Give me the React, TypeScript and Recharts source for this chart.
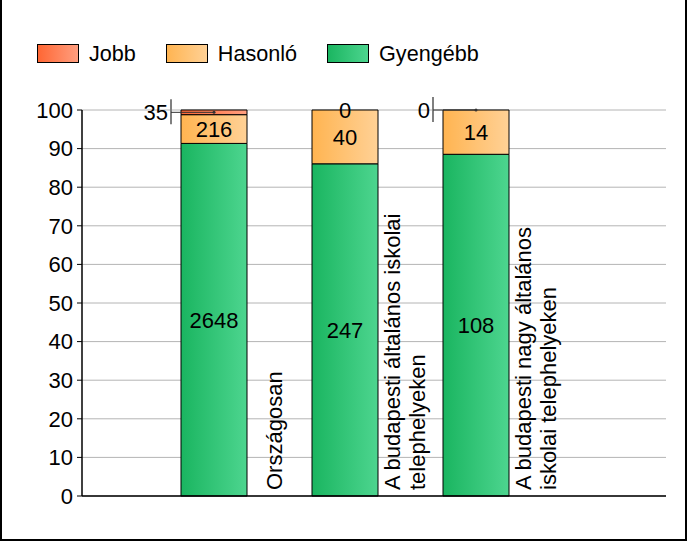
import React from 'react';
import { BarChart, Bar, XAxis, YAxis, CartesianGrid, LabelList } from 'recharts';

const categories = ['Országosan', 'A budapesti általános iskolai telephelyeken', 'A budapesti nagy általános iskolai telephelyeken'];
const categoryLines = [['Országosan'], ['A budapesti általános iskolai', 'telephelyeken'], ['A budapesti nagy általános', 'iskolai telephelyeken']];
const jobb = [35, 0, 0];
const hasonlo = [216, 40, 14];
const gyengebb = [2648, 247, 108];
const yTicks = [0, 10, 20, 30, 40, 50, 60, 70, 80, 90, 100];

const series = [
  { key: 'jobb', name: 'Jobb', from: '#FF6633', to: '#FF9F80' },
  { key: 'hasonlo', name: 'Hasonló', from: '#FFB451', to: '#FFD196' },
  { key: 'gyengebb', name: 'Gyengébb', from: '#1AB560', to: '#4DD58F' },
];

const data = categories.map((name, i) => {
  const total = jobb[i] + hasonlo[i] + gyengebb[i];
  return {
    name,
    jobb: (jobb[i] / total) * 100,
    hasonlo: (hasonlo[i] / total) * 100,
    gyengebb: (gyengebb[i] / total) * 100,
    jobbN: jobb[i],
    hasonloN: hasonlo[i],
    gyengebbN: gyengebb[i],
  };
});

const FONT = '"Liberation Sans", Arial, sans-serif';

function CategoryTick(props: any) {
  const { x, y, index } = props;
  const lines = categoryLines[index] || [];
  return (
    <g>
      {lines.map((line, i) => {
        const bx = x + 68 + (i - (lines.length - 1) / 2) * 25;
        const by = y - 6;
        return (
          <text key={i} x={bx} y={by} transform={`rotate(-90 ${bx} ${by})`} fontSize={22} fontFamily={FONT} fill="#000" textAnchor="start">
            {line}
          </text>
        );
      })}
    </g>
  );
}

// draws the "Jobb" count; cy is the middle of the (possibly empty) top segment
function drawJobb(x: number, width: number, cy: number, value: any, index: number) {
  if (index === 1) {
    return (
      <text x={x + width / 2} y={cy} textAnchor="middle" dominantBaseline="central" fontSize={22} fontFamily={FONT} fill="#000">
        {value}
      </text>
    );
  }
  const lx = x - 10;
  return (
    <g>
      <line x1={lx} y1={cy - 13} x2={lx} y2={cy + 12} stroke="#808080" strokeWidth={2} />
      <line x1={lx} y1={cy} x2={x + width / 2} y2={cy} stroke="#333" strokeWidth={1} />
      <circle cx={x + width / 2} cy={cy} r={1.5} fill="#333" />
      <text x={x - 13} y={cy} textAnchor="end" dominantBaseline="central" fontSize={22} fontFamily={FONT} fill="#000">
        {value}
      </text>
    </g>
  );
}

function JobbLabel(props: any) {
  const { x, y, width, height, value, index } = props;
  if (!value) return null;
  return drawJobb(x, width, y + height / 2, value, index);
}

// zero-height Jobb segments get no label from their own bar, so draw them from the bar below
function JobbZeroLabel(props: any) {
  const { x, y, width, value, index } = props;
  if (value !== 0) return null;
  return drawJobb(x, width, y, value, index);
}

function Legend() {
  return (
    <div style={{ position: 'absolute', left: 37, top: 44, display: 'flex', alignItems: 'center', fontFamily: FONT, fontSize: 21.6, lineHeight: '19px' }}>
      {series.map((s) => (
        <div key={s.key} style={{ display: 'flex', alignItems: 'center', marginRight: 30 }}>
          <svg width={42} height={19} style={{ display: 'block' }}>
            <defs>
              <linearGradient id={`lg-${s.key}`} x1="0" y1="0" x2="1" y2="0">
                <stop offset="0%" stopColor={s.from} />
                <stop offset="100%" stopColor={s.to} />
              </linearGradient>
            </defs>
            <rect x={0.5} y={0.5} width={41} height={18} fill={`url(#lg-${s.key})`} stroke="#000" strokeWidth={1} />
          </svg>
          <span style={{ marginLeft: 10 }}>{s.name}</span>
        </div>
      ))}
    </div>
  );
}

export default function App() {
  return (
    <div style={{ position: 'relative', width: 687, height: 541, background: '#fff', fontFamily: FONT }}>
      <style>{'body{margin:0}'}</style>
      <Legend />
      <BarChart width={687} height={541} data={data} margin={{ top: 110, right: 21, bottom: 44, left: 0 }} barSize={66}>
        <defs>
          {series.map((s) => (
            <linearGradient key={s.key} id={`g-${s.key}`} x1="0" y1="0" x2="1" y2="0">
              <stop offset="0%" stopColor={s.from} />
              <stop offset="100%" stopColor={s.to} />
            </linearGradient>
          ))}
        </defs>
        <CartesianGrid vertical={false} stroke="#B4B4B4" strokeWidth={1} />
        <XAxis
          dataKey="name"
          height={1}
          padding={{ left: 66, right: 125 }}
          axisLine={{ stroke: '#000', strokeWidth: 1.5 }}
          tickLine={false}
          tickSize={0}
          tickMargin={0}
          interval={0}
          tick={<CategoryTick />}
        />
        <YAxis
          width={82}
          domain={[0, 100]}
          ticks={yTicks}
          interval={0}
          axisLine={{ stroke: '#000', strokeWidth: 1.5 }}
          tickLine={{ stroke: '#000' }}
          tickSize={5}
          tickMargin={4}
          tick={{ fill: '#000', fontSize: 22, fontFamily: FONT }}
        />
        <Bar dataKey="gyengebb" stackId="a" fill="url(#g-gyengebb)" stroke="#000" strokeWidth={1} isAnimationActive={false}>
          <LabelList dataKey="gyengebbN" position="center" fill="#000" fontSize={22} fontFamily={FONT} />
        </Bar>
        <Bar dataKey="hasonlo" stackId="a" fill="url(#g-hasonlo)" stroke="#000" strokeWidth={1} isAnimationActive={false}>
          <LabelList dataKey="hasonloN" position="center" fill="#000" fontSize={22} fontFamily={FONT} />
          <LabelList dataKey="jobbN" content={<JobbZeroLabel />} />
        </Bar>
        <Bar dataKey="jobb" stackId="a" fill="url(#g-jobb)" stroke="#000" strokeWidth={1} isAnimationActive={false}>
          <LabelList dataKey="jobbN" content={<JobbLabel />} />
        </Bar>
      </BarChart>
      <div style={{ position: 'absolute', inset: 0, borderLeft: '2px solid #000', borderRight: '2px solid #000', borderBottom: '2px solid #000', pointerEvents: 'none' }} />
    </div>
  );
}
